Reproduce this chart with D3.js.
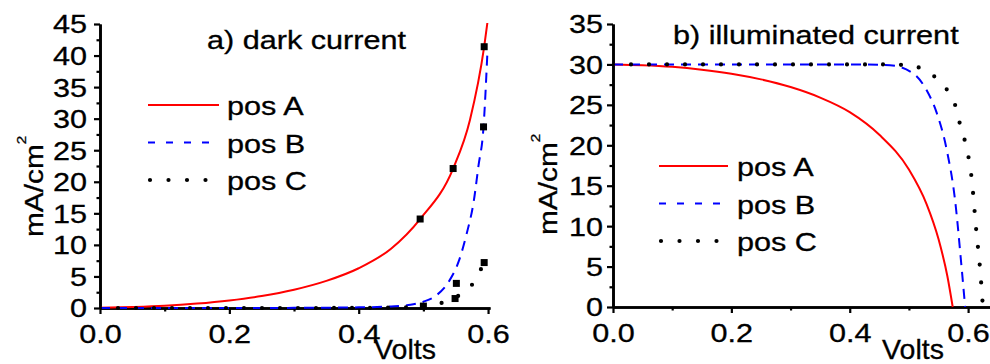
<!DOCTYPE html>
<html>
<head>
<meta charset="utf-8">
<script src="https://cdn.jsdelivr.net/npm/d3@7"></script>
<style>
  body { margin: 0; background: #fff; }
  text { font-family: "Liberation Sans", Arial, sans-serif; fill: #000; stroke: #000; stroke-width: 0.3px; }
</style>
</head>
<body>
<svg id="chart" width="990" height="364"></svg>
<script>
// ---- data: [volts, mA/cm2] ----
const darkA = [[0, 0.02], [0.05, 0.15], [0.1, 0.35], [0.15, 0.7], [0.2, 1.2], [0.25, 1.9], [0.3, 2.9],
  [0.35, 4.3], [0.4, 6.3], [0.45, 9.4], [0.495, 14.1], [0.546, 22.1], [0.572, 29.8], [0.594, 41.4], [0.6, 46]];
const darkB = [[0, 0], [0.2, 0], [0.3, 0.02], [0.4, 0.1], [0.45, 0.25], [0.48, 0.5], [0.5, 1.0], [0.52, 2.0],
  [0.54, 4.3], [0.555, 7.5], [0.567, 11.8], [0.578, 17], [0.585, 22.4], [0.593, 28.7], [0.599, 40.5]];
const darkC = [[0, 0], [0.3, 0], [0.45, 0.05], [0.5, 0.25], [0.52, 0.6], [0.55, 1.7], [0.576, 3.8], [0.594, 7.2]];
const darkPoints = [[0.495, 14.1], [0.546, 22.1], [0.594, 41.4], [0.593, 28.7], [0.551, 3.9],
  [0.5, 0.3], [0.549, 1.5], [0.594, 7.2]];

const lightA = [[0, 30], [0.05, 29.9], [0.1, 29.7], [0.15, 29.35], [0.2, 28.85], [0.25, 28.15], [0.3, 27.2],
  [0.35, 25.9], [0.4, 24.1], [0.45, 21.3], [0.5, 17.0], [0.53, 12.7], [0.55, 8.4], [0.565, 3.8], [0.574, 0]];
const lightB = [[0, 30], [0.4, 30], [0.45, 29.95], [0.468, 29.9], [0.507, 28.9], [0.53, 26.8], [0.547, 24.0],
  [0.564, 19.4], [0.578, 13.2], [0.589, 4.9], [0.595, 0]];
const lightC = [[0, 30], [0.45, 30], [0.502, 29.9], [0.53, 29.1], [0.561, 27.2], [0.578, 25.0], [0.586, 22.7],
  [0.595, 20.4], [0.606, 15.9], [0.614, 9.3], [0.62, 4.9], [0.625, 0]];

const seriesNames = ['pos A', 'pos B', 'pos C'];
const xTicks = [0, 0.2, 0.4, 0.6];
const xMinor = [0.1, 0.3, 0.5];
const yTicksDark = [0, 5, 10, 15, 20, 25, 30, 35, 40, 45];
const yTicksLight = [0, 5, 10, 15, 20, 25, 30, 35];

const styles = [
  { stroke: '#ff0000', dash: null, legendDash: null, width: 2, cap: 'butt' },
  { stroke: '#0000ff', dash: '10,7', legendDash: '7,11', width: 2, cap: 'butt' },
  { stroke: '#000', dash: '0,18', legendDash: '0,18.5', width: 4.2, cap: 'round' }
];

const svg = d3.select('#chart');
const FS = 25.5, SX = 1.2; // the reference font is drawn wide

function styleAxis(sel) {
  sel.select('.domain').attr('stroke', '#000').attr('stroke-width', 2.6);
  sel.selectAll('.tick line').attr('stroke', '#000').attr('stroke-width', 2.2);
}

function wideText(g, x, y, str) {
  return g.append('text').attr('transform', `translate(${x},${y}) scale(${SX},1)`)
    .attr('font-size', FS).text(str);
}

function panel(o) {
  const x = d3.scaleLinear().domain(o.xDomain).range(o.xRange);
  const y = d3.scaleLinear().domain(o.yDomain).range(o.yRange);
  const g = svg.append('g');
  const id = 'clip' + o.key;
  g.append('clipPath').attr('id', id).append('rect')
    .attr('x', o.xRange[0]).attr('y', o.yRange[1] - 1)
    .attr('width', o.xRange[1] - o.xRange[0]).attr('height', o.yRange[0] - o.yRange[1] + 4);

  // minor ticks
  g.append('g').attr('transform', `translate(0,${o.yRange[0]})`)
    .call(d3.axisBottom(x).tickValues(xMinor).tickSize(3.5).tickSizeOuter(0).tickFormat(''))
    .call(styleAxis);
  g.append('g').attr('transform', `translate(${o.xRange[0]},0)`)
    .call(d3.axisLeft(y).tickValues(o.yTicks.slice(0, -1).map(v => v + 2.5)).tickSize(3.5).tickSizeOuter(0).tickFormat(''))
    .call(styleAxis);

  // major axes
  const gx = g.append('g').attr('transform', `translate(0,${o.yRange[0]})`)
    .call(d3.axisBottom(x).tickValues(xTicks).tickSize(6).tickSizeOuter(0).tickFormat(d3.format('.1f')))
    .call(styleAxis);
  gx.selectAll('text').attr('font-size', FS).attr('font-family', null)
    .attr('y', 35).attr('dy', 0).attr('transform', `scale(${SX},1)`);

  const gy = g.append('g').attr('transform', `translate(${o.xRange[0]},0)`)
    .call(d3.axisLeft(y).tickValues(o.yTicks).tickSize(6).tickSizeOuter(0).tickFormat(d3.format('d')))
    .call(styleAxis);
  gy.selectAll('text').attr('font-size', FS).attr('font-family', null)
    .attr('x', -o.yPad / SX).attr('dy', '0.35em').attr('transform', `scale(${SX},1)`);

  // curves
  const line = d3.line().x(d => x(d[0])).y(d => y(d[1])).curve(d3.curveMonotoneX);
  o.series.forEach((s, i) => {
    const st = styles[i];
    g.append('path').datum(s).attr('clip-path', `url(#${id})`)
      .attr('d', line).attr('fill', 'none')
      .attr('stroke', st.stroke).attr('stroke-width', st.width)
      .attr('stroke-dasharray', st.dash).attr('stroke-linecap', st.cap);
  });

  if (o.points) {
    g.selectAll('.pt').data(o.points).enter().append('rect').attr('class', 'pt')
      .attr('x', d => x(d[0]) - 3.5).attr('y', d => y(d[1]) - 3.5)
      .attr('width', 7).attr('height', 7).attr('fill', '#000');
  }

  // legend
  seriesNames.forEach((name, i) => {
    const st = styles[i];
    const ly = o.legend.y + i * 37.5;
    g.append('line').attr('x1', o.legend.x1).attr('x2', o.legend.x2).attr('y1', ly).attr('y2', ly)
      .attr('stroke', st.stroke).attr('stroke-width', st.width)
      .attr('stroke-dasharray', st.legendDash).attr('stroke-linecap', st.cap)
      .attr('stroke-dashoffset', i === 2 ? -2 : 0);
    wideText(g, o.legend.tx, ly + 10, name);
  });

  // titles and labels
  wideText(g, o.title.x, o.title.y, o.title.text);
  g.append('text').attr('x', o.volts.x).attr('y', o.volts.y).attr('text-anchor', 'middle')
    .attr('font-size', 28.5).text('Volts');

  const yl = g.append('text')
    .attr('transform', `translate(${o.ylab.x},${o.ylab.y}) rotate(-90) scale(1.17,1)`)
    .attr('font-size', FS);
  yl.append('tspan').text('mA/cm');
  yl.append('tspan').attr('font-size', 13).attr('dy', -17).text('2');
}

panel({
  key: 'a', xDomain: [0, 0.603], xRange: [100, 490], yDomain: [0, 45], yRange: [308, 24],
  yTicks: yTicksDark, yPad: 13,
  series: [darkA, darkB, darkC], points: darkPoints,
  legend: { x1: 148, x2: 219, y: 105, tx: 227 },
  title: { x: 207, y: 49, text: 'a) dark current' },
  volts: { x: 405, y: 359 },
  ylab: { x: 43, y: 237 }
});

panel({
  key: 'b', xDomain: [0, 0.637], xRange: [613, 990], yDomain: [0, 35], yRange: [307, 24],
  yTicks: yTicksLight, yPad: 10,
  series: [lightA, lightB, lightC], points: null,
  legend: { x1: 659, x2: 728, y: 166, tx: 737 },
  title: { x: 673, y: 44, text: 'b) illuminated current' },
  volts: { x: 913, y: 359 },
  ylab: { x: 557, y: 235 }
});
</script>
</body>
</html>
